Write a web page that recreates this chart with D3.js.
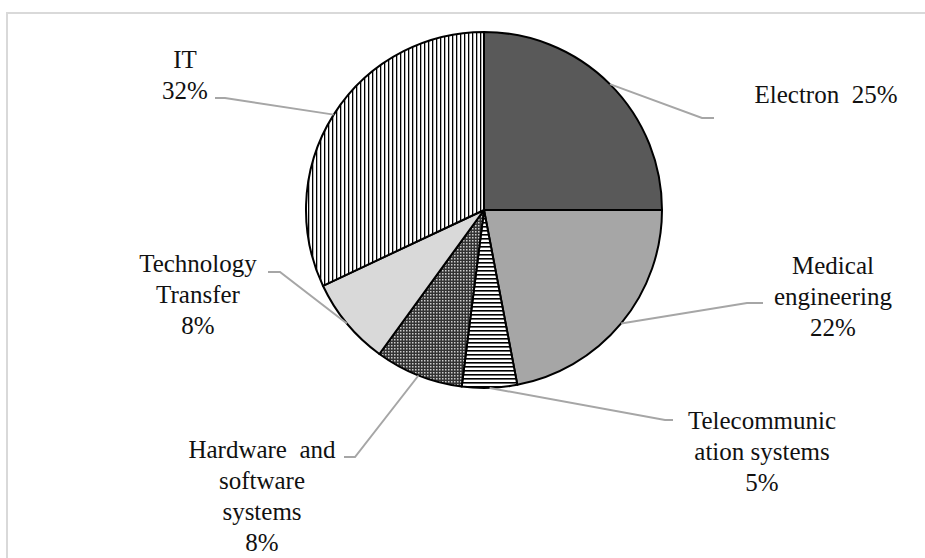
<!DOCTYPE html>
<html><head>
<meta charset="utf-8">
<script src="https://d3js.org/d3.v7.min.js"></script>
</head>
<body style="margin:0">
<svg id="pie" width="925" height="558" font-family="Liberation Serif, Times New Roman, serif"></svg>
<script>
  // data
  const categories = ["Electron", "Medical engineering", "Telecommunication systems",
                      "Hardware and software systems", "Technology Transfer", "IT"];
  const shares = [25, 22, 5, 8, 8, 32];
  const labelLines = [
    ["Electron  25%"],
    ["Medical", "engineering", "22%"],
    ["Telecommunic", "ation systems", "5%"],
    ["Hardware  and", "software", "systems", "8%"],
    ["Technology", "Transfer", "8%"],
    ["IT", "32%"]
  ];
  const fills = ["#595959", "#a6a6a6", "url(#hlines)", "url(#checks)", "#d9d9d9", "url(#vlines)"];

  // layout for labels: text centre x, first baseline y, leader elbow, leader end
  const labelPos = [
    {x: 826, y: 103, elbow: [702, 118], end: [714, 118]},
    {x: 833, y: 274, elbow: [747, 303], end: [763, 303]},
    {x: 762, y: 429, elbow: [665, 420], end: [673, 420]},
    {x: 262, y: 458, elbow: [355, 457], end: [344, 457]},
    {x: 198, y: 272, elbow: [280, 272], end: [268, 272]},
    {x: 185, y: 68,  elbow: [225, 98],  end: [215, 98]}
  ];
  const lineGap = 31;

  const svg = d3.select('svg#pie');
  const cx = 484, cy = 210, radius = 178;

  // labels first, one text element per line
  labelLines.forEach((lines, i) => {
    const p = labelPos[i];
    lines.forEach((ln, j) => {
      svg.append('text')
         .attr('x', p.x).attr('y', p.y + j * lineGap)
         .style('font-family', '"Liberation Serif"')
         .style('font-size', '25px')
         .style('white-space', 'pre')
         .text(ln)
         .attr('fill', '#111')
         .attr('text-anchor', 'middle');
    });
  });

  // frame
  svg.insert('rect', ':first-child')
     .attr('x', 7).attr('y', 13)
     .attr('width', 940).attr('height', 560)
     .attr('fill', 'none')
     .attr('stroke', '#d9d9d9').attr('stroke-width', 2);

  // patterns
  const defs = svg.append('defs');
  let vp = defs.append('pattern').attr('id', 'vlines').attr('patternUnits', 'userSpaceOnUse')
               .attr('width', 4).attr('height', 4);
  vp.append('rect').attr('width', 4).attr('height', 4).attr('fill', '#fff');
  vp.append('rect').attr('x', 0).attr('width', 1.3).attr('height', 4).attr('fill', '#000');

  let hp = defs.append('pattern').attr('id', 'hlines').attr('patternUnits', 'userSpaceOnUse')
               .attr('width', 4).attr('height', 4);
  hp.append('rect').attr('width', 4).attr('height', 4).attr('fill', '#fff');
  hp.append('rect').attr('y', 0).attr('width', 4).attr('height', 1.6).attr('fill', '#000');

  let cp = defs.append('pattern').attr('id', 'checks').attr('patternUnits', 'userSpaceOnUse')
               .attr('width', 3).attr('height', 3);
  cp.append('rect').attr('width', 3).attr('height', 3).attr('fill', '#333');
  cp.append('rect').attr('x', 0).attr('y', 0).attr('width', 1.5).attr('height', 1.5).attr('fill', '#ccc');

  const pie = d3.pie().sort(null).value(d => d);
  const arcs = pie(shares);
  const arc = d3.arc().innerRadius(0).outerRadius(radius);

  let chartArea = svg.append('g').attr('transform', `translate(${cx}, ${cy})`);

  chartArea.selectAll('path.slice')
    .data(arcs)
    .join('path')
    .attr('class', 'slice')
    .attr('d', arc)
    .attr('fill', (d, i) => fills[i])
    .attr('stroke', '#000')
    .attr('stroke-width', 2)
    .attr('stroke-linejoin', 'round');

  // leader lines from slice mid-angle on the rim
  arcs.forEach((a, i) => {
    const mid = (a.startAngle + a.endAngle) / 2;
    const sx = cx + radius * Math.sin(mid);
    const sy = cy - radius * Math.cos(mid);
    const p = labelPos[i];
    svg.append('polyline')
       .attr('fill', 'none').attr('stroke', '#a6a6a6').attr('stroke-width', 2)
       .attr('points', [[sx, sy], p.elbow, p.end].map(q => q.join(',')).join(' '));
  });
</script>
</body>
</html>
